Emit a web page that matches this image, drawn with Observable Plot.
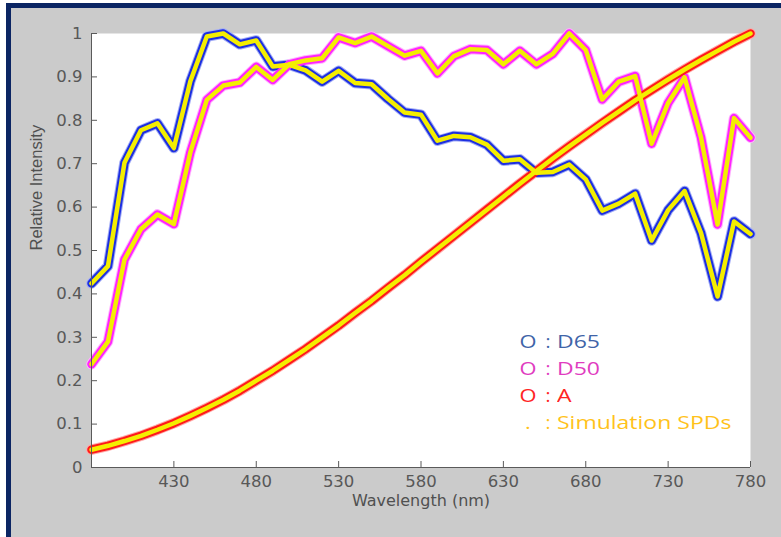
<!DOCTYPE html>
<html><head><meta charset="utf-8">
<script src="https://cdn.jsdelivr.net/npm/d3@7"></script>
<script src="https://cdn.jsdelivr.net/npm/@observablehq/plot@0.6"></script>
<style>
html,body{margin:0;padding:0;background:#fff;}
#page{position:relative;width:781px;height:537px;overflow:hidden;}
#bg{position:absolute;left:6px;top:3px;right:0;bottom:0;background:#cbcbcb;border-left:5px solid #0b2563;border-top:5px solid #0b2563;}
#chart{position:absolute;left:0;top:0;}
#legend{position:absolute;left:517px;top:328px;font-family:"Open Sans";font-size:19px;line-height:27px;white-space:nowrap;}
#legend .row{height:27px;position:relative;}
#legend .sym{display:inline-block;width:22px;text-align:center;transform:scaleX(1.15);}
#legend .col{display:inline-block;width:18px;text-align:center;}
#legend .lab{display:inline-block;transform:scaleX(1.21);transform-origin:left center;}
</style></head>
<body>
<div id="page"><div id="bg"></div><div id="chart"></div><div id="legend"></div></div>
<script>
// wavelength (nm)
const wavelengths = [380,390,400,410,420,430,440,450,460,470,480,490,500,510,520,530,540,550,560,570,580,590,600,610,620,630,640,650,660,670,680,690,700,710,720,730,740,750,760,770,780];
// relative intensity of each illuminant
const d65 = [0.424,0.464,0.702,0.777,0.793,0.736,0.890,0.993,1.000,0.975,0.984,0.924,0.928,0.915,0.889,0.914,0.886,0.883,0.849,0.818,0.813,0.753,0.764,0.761,0.744,0.707,0.710,0.679,0.681,0.698,0.664,0.592,0.608,0.631,0.523,0.593,0.637,0.540,0.394,0.567,0.538];
const d50 = [0.238,0.290,0.479,0.549,0.583,0.561,0.726,0.847,0.880,0.887,0.923,0.893,0.929,0.938,0.943,0.991,0.978,0.993,0.971,0.949,0.960,0.908,0.948,0.964,0.962,0.929,0.960,0.929,0.953,1.000,0.962,0.848,0.889,0.902,0.746,0.840,0.899,0.760,0.560,0.805,0.760];
const illumA = [0.041,0.050,0.061,0.073,0.087,0.102,0.119,0.137,0.156,0.177,0.200,0.223,0.248,0.273,0.300,0.327,0.356,0.384,0.414,0.443,0.474,0.504,0.534,0.564,0.594,0.624,0.654,0.683,0.712,0.740,0.767,0.794,0.820,0.846,0.870,0.894,0.917,0.939,0.960,0.981,1.000];
const seriesNames = ["D65","D50","A"];
const xTicks = [430,480,530,580,630,680,730,780];
const yTicks = [0,0.1,0.2,0.3,0.4,0.5,0.6,0.7,0.8,0.9,1];
const yTickLabels = ["0","0.1","0.2","0.3","0.4","0.5","0.6","0.7","0.8","0.9","1"];
const legendSymbols = ["O","O","O","."];
const legendLabels = ["D65","D50","A","Simulation SPDs"];

// styles
const seriesValues = [d65, d50, illumA];
const edgeColors = ["#1d2fe0","#ff24ff","#ff1a1a"];
const haloColors = ["#a3adf7","#ffb0ff","#ffa8a8"];
const coreColor = "#f4ee00";
const legendColors = ["#3f64a8","#e03cc0","#ff2424","#ffc21a"];

const rowsFor = vals => wavelengths.map((w, i) => ({w, v: vals[i]}));
const lineOpts = (color, width) => ({x: "w", y: "v", stroke: color, strokeWidth: width, strokeLinecap: "round", strokeLinejoin: "round"});

const marks = [
  Plot.frame({fill: "white", stroke: "none"}),
  ...seriesValues.map((vals, k) => Plot.line(rowsFor(vals), lineOpts(haloColors[k], 10.5))),
  ...seriesValues.map((vals, k) => Plot.line(rowsFor(vals), lineOpts(edgeColors[k], 8.5))),
  ...seriesValues.map((vals) => Plot.line(rowsFor(vals), lineOpts(coreColor, 4.5))),
  Plot.ruleX([380], {stroke: "#5a5a5a"}),
  Plot.ruleY([0], {stroke: "#5a5a5a"}),
  // inward tick marks
  Plot.axisX(xTicks, {tickSize: -6, tickFormat: () => "", label: null, stroke: "#5a5a5a"}),
  Plot.axisY(yTicks, {tickSize: -6, tickFormat: () => "", label: null, stroke: "#5a5a5a"}),
  // tick labels
  Plot.axisX(xTicks, {tickSize: 0, tickPadding: 8, label: null}),
  Plot.axisY(yTicks, {tickSize: 0, tickPadding: 9, label: null,
    tickFormat: d => yTickLabels[yTicks.indexOf(d)]}),
  Plot.text(["Wavelength (nm)"], {frameAnchor: "bottom", dy: 38, fontFamily: "DejaVu Sans", fontSize: 16, fill: "#505050"}),
  Plot.text(["Relative Intensity"], {frameAnchor: "left", dx: -55, rotate: -90, fontFamily: "Liberation Sans", fontSize: 16.5, fill: "#505050"})
];

const chart = Plot.plot({
  width: 781, height: 537,
  marginLeft: 91, marginRight: 31, marginTop: 33, marginBottom: 70,
  x: {domain: [380, 780], axis: null},
  y: {domain: [0, 1], axis: null},
  style: {background: "transparent", fontFamily: "DejaVu Sans", fontSize: "16.5px", color: "#585858", overflow: "visible"},
  marks
});
document.getElementById("chart").appendChild(chart);

const legend = document.getElementById("legend");
legendLabels.forEach((lab, i) => {
  const row = document.createElement("div");
  row.className = "row";
  row.style.color = legendColors[i];
  row.innerHTML = `<span class="sym">${legendSymbols[i]}</span><span class="col">:</span><span class="lab">${lab}</span>`;
  legend.appendChild(row);
});
</script>
</body></html>
